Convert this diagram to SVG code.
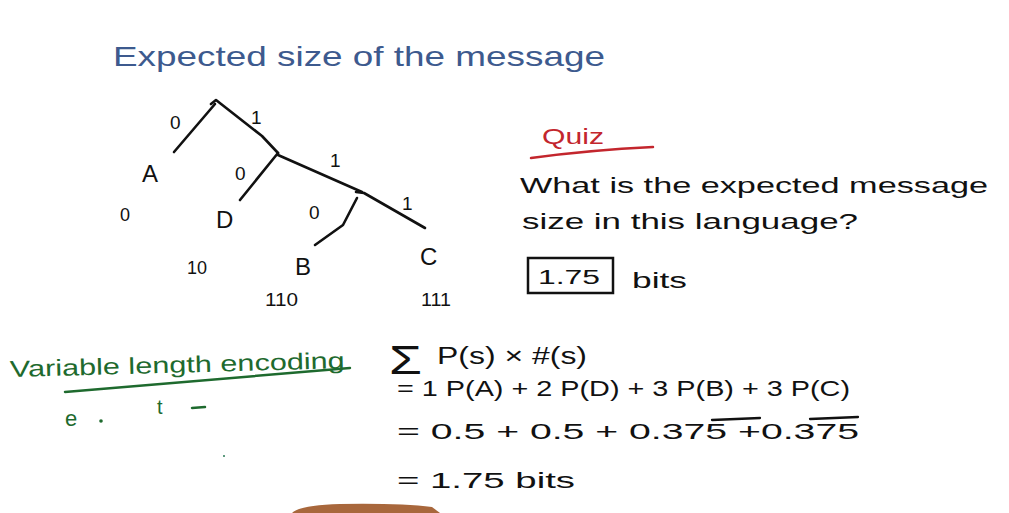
<svg xmlns="http://www.w3.org/2000/svg" width="1009" height="513" viewBox="0 0 1009 513">
<style>
text{font-family:"Liberation Sans","DejaVu Sans",sans-serif}
.k{fill:#111}
.b{fill:#3d5a8e}
.r{fill:#c3262d}
.g{fill:#1e6a2e}
.ln{stroke:#111;stroke-width:2.6;fill:none;stroke-linecap:round;stroke-linejoin:round}
.lbl{font-size:19px;fill:#111}
.leaf{font-size:24px;fill:#111}
.code{font-size:18px;fill:#111}
.m{fill:#111}
</style>
<rect width="1009" height="513" fill="#fff"/>
<text class="b" x="113" y="66" font-size="28" textLength="492" lengthAdjust="spacingAndGlyphs">Expected size of the message</text>

<g id="connectors">
<path class="ln" d="M215,104 L174,152"/>
<path class="ln" d="M211,104 L216,100 L262,136 L278,153"/>
<path class="ln" d="M278,153 L240,200"/>
<path class="ln" d="M278,155 L362,192"/>
<path class="ln" d="M357,198 L343,225 L315,245"/>
<path class="ln" d="M356,192 L364,193 L425,228"/>
<text class="lbl" x="170" y="129">0</text>
<text class="lbl" x="251" y="124">1</text>
<text class="lbl" x="235" y="180">0</text>
<text class="lbl" x="330" y="167">1</text>
<text class="lbl" x="309" y="219">0</text>
<text class="lbl" x="402" y="210">1</text>
</g>

<g id="node-A"><text class="leaf" x="142" y="182">A</text><text class="code" x="120" y="221">0</text></g>
<g id="node-D"><text class="leaf" x="216" y="228">D</text><text class="code" x="187" y="274">10</text></g>
<g id="node-B"><text class="leaf" x="295" y="275">B</text><text class="code" x="265" y="306" textLength="33" lengthAdjust="spacingAndGlyphs">110</text></g>
<g id="node-C"><text class="leaf" x="420" y="265">C</text><text class="code" x="421" y="306" textLength="30" lengthAdjust="spacingAndGlyphs">111</text></g>

<g id="quiz">
<text class="r" x="542" y="144" font-size="22" textLength="62" lengthAdjust="spacingAndGlyphs">Quiz</text>
<path d="M531,158 Q590,150 653,147" stroke="#c3262d" stroke-width="2.5" fill="none" stroke-linecap="round"/>
<text class="k" x="520" y="193" font-size="22" textLength="468" lengthAdjust="spacingAndGlyphs">What is the expected message</text>
<text class="k" x="522" y="229" font-size="22" textLength="336" lengthAdjust="spacingAndGlyphs">size in this language?</text>
<rect x="528" y="258" width="85" height="35" fill="none" stroke="#111" stroke-width="2.5"/>
<text class="k" x="538" y="284" font-size="20" textLength="62" lengthAdjust="spacingAndGlyphs">1.75</text>
<text class="k" x="632" y="288" font-size="22" textLength="55" lengthAdjust="spacingAndGlyphs">bits</text>
</g>

<g id="vle">
<text class="g" x="10" y="377" font-size="23" textLength="335" lengthAdjust="spacingAndGlyphs" transform="rotate(-1.5 10 377)">Variable length encoding</text>
<path d="M65,392 L350,368" stroke="#1e6a2e" stroke-width="2.5" fill="none" stroke-linecap="round"/>
<text class="g" x="65" y="426" font-size="22">e</text>
<circle cx="101" cy="421" r="1.8" fill="#1e6a2e"/>
<text class="g" x="157" y="414" font-size="20">t</text>
<path d="M192,408 L205,407" stroke="#1e6a2e" stroke-width="2.5" stroke-linecap="round"/>
<circle cx="224" cy="456" r="1" fill="#2a7a55"/>
</g>

<g id="math">
<text class="m" x="389" y="374" font-size="40" textLength="33" lengthAdjust="spacingAndGlyphs">Σ</text>
<text class="m" x="437" y="364" font-size="23" textLength="150" lengthAdjust="spacingAndGlyphs">P(s) × #(s)</text>
<text class="m" x="397" y="396" font-size="22" textLength="453" lengthAdjust="spacingAndGlyphs">= 1 P(A) +  2 P(D) +  3 P(B) + 3 P(C)</text>
<text class="m" x="397" y="439" font-size="22" textLength="462" lengthAdjust="spacingAndGlyphs">=  0.5  + 0.5  +  0.375 +0.375</text>
<path d="M712,420 L760,418 M810,419 L858,417" stroke="#111" stroke-width="2.3" stroke-linecap="round"/>
<text class="m" x="397" y="488" font-size="22" textLength="178" lengthAdjust="spacingAndGlyphs">=    1.75 bits</text>
</g>

<path d="M292,513 Q300,505 340,504 Q400,503 432,507 L440,513 Z" fill="#a8673c"/>
</svg>
